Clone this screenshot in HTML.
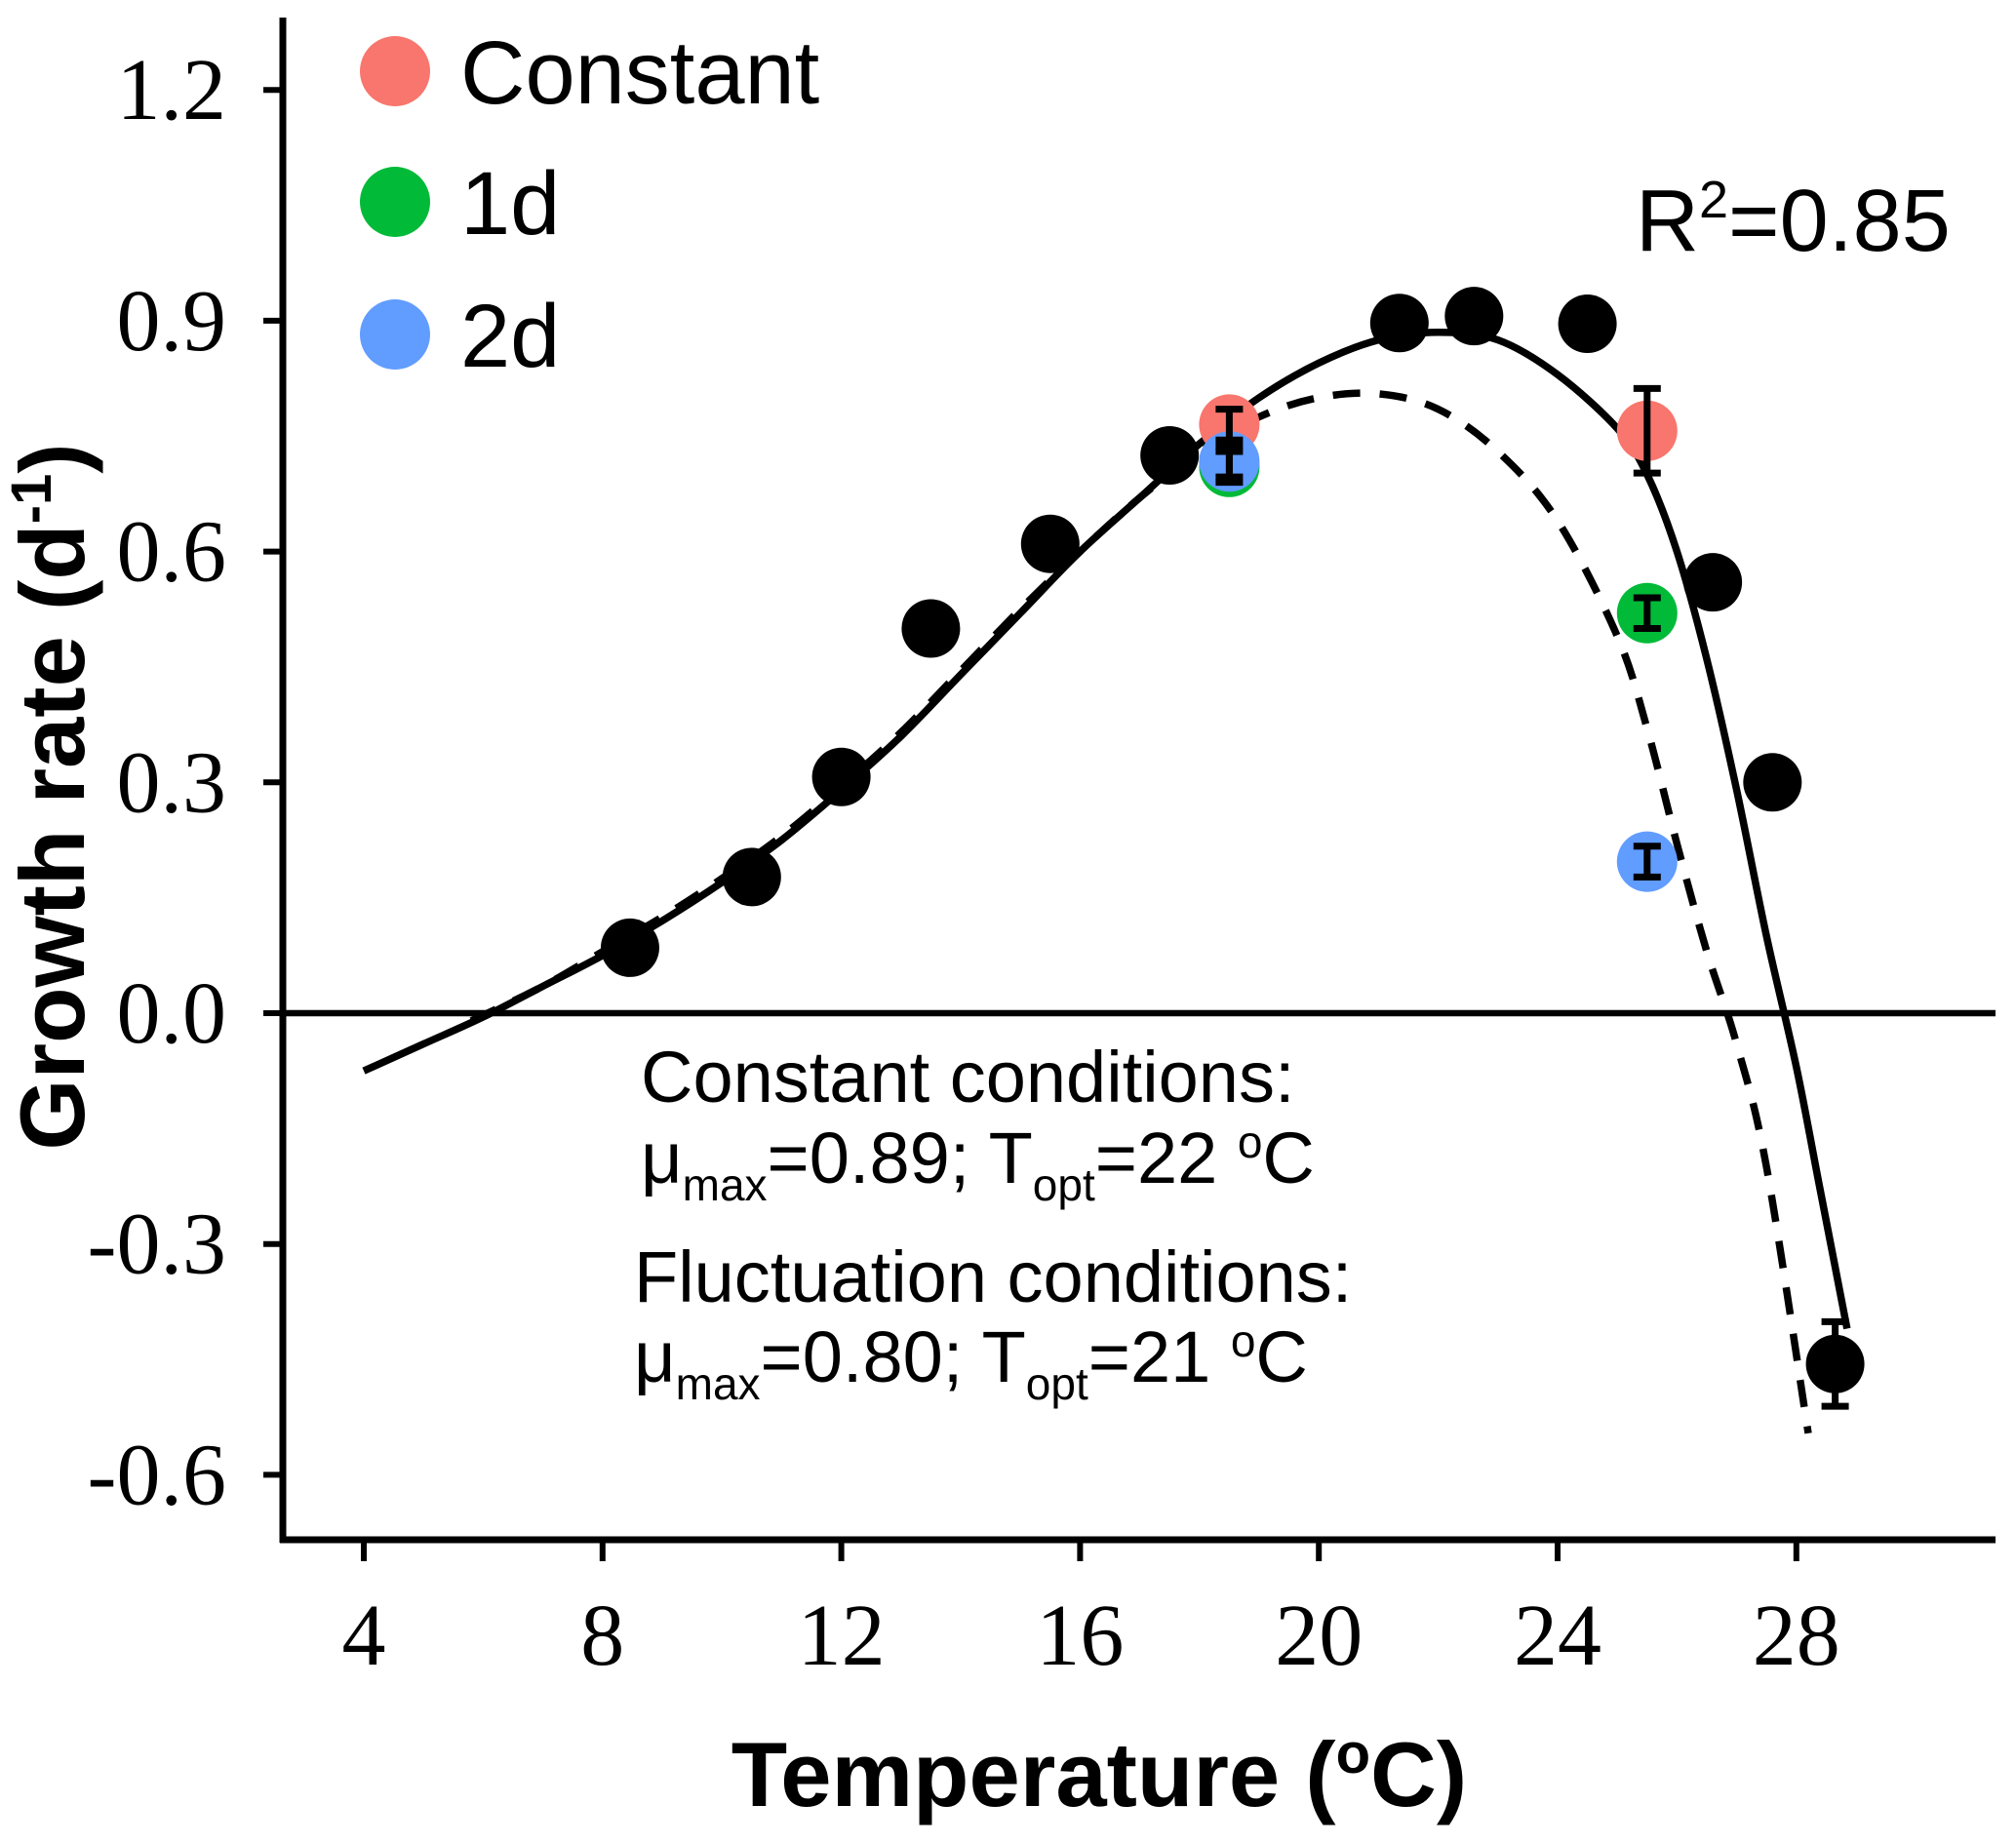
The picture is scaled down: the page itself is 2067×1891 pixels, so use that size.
<!DOCTYPE html>
<html><head><meta charset="utf-8"><style>
html,body{margin:0;padding:0;background:#fff}
svg{display:block}
text{font-family:"Liberation Sans",sans-serif}
</style></head><body>
<svg id="chart" width="2067" height="1891" viewBox="0 0 2067 1891"></svg>
<script>
const xTicks=[4,8,12,16,20,24,28];
const yTicks=[1.2,0.9,0.6,0.3,0.0,-0.3,-0.6];
const yTickLabels=["1.2","0.9","0.6","0.3","0.0","-0.3","-0.6"];
const blackT=[8.46,10.5,12.0,13.5,15.5,17.5,21.35,22.6,24.5,26.6,27.6,28.65];
const blackY=[0.085,0.177,0.307,0.50,0.61,0.725,0.897,0.906,0.896,0.56,0.30,-0.456];
const constT=[18.5,25.5], constY=[0.765,0.757], constErr=[0.02,0.055];
const d1T=[18.5,25.5], d1Y=[0.71,0.52], d1Err=[0.02,0.02];
const d2T=[18.5,25.5], d2Y=[0.717,0.197], d2Err=[0.02,0.02];
const solidT=[4,5,6,7,8,9,10,11,12,13,14,15,16,17,18,19,20,21,22,23,24,25,25.5,26,26.5,27,27.5,28,28.4,28.85];
const solidY=[-0.075,-0.04,-0.005,0.035,0.075,0.12,0.17,0.225,0.29,0.36,0.44,0.52,0.6,0.67,0.74,0.8,0.845,0.875,0.885,0.875,0.83,0.76,0.7,0.6,0.46,0.29,0.1,-0.07,-0.23,-0.41];
const dashT=[5.8,7,8,9,10,11,12,13,14,15,16,17,18,19,20,21,22,23,24,25,25.5,26,26.5,27,27.5,28.2];
const dashY=[-0.01,0.035,0.08,0.125,0.175,0.23,0.295,0.365,0.445,0.525,0.6,0.67,0.73,0.775,0.8,0.805,0.785,0.73,0.64,0.49,0.37,0.22,0.08,-0.04,-0.2,-0.546];

const svg=document.getElementById('chart');
const NS='http://www.w3.org/2000/svg';
const X=t=>373+(t-4)*61.2;
const Y=v=>1039-v*789;
function mk(tag,attrs,parent){const e=document.createElementNS(NS,tag);for(const k in attrs)e.setAttribute(k,attrs[k]);(parent||svg).appendChild(e);return e;}

let e=mk('line',{x1:290,y1:18,x2:290,y2:1582,stroke:'#000','stroke-width':7});


e=mk('line',{x1:287,y1:1579,x2:2046,y2:1579,stroke:'#000','stroke-width':7});


e=mk('line',{x1:290,y1:Y(0),x2:2046,y2:Y(0),stroke:'#000','stroke-width':6.5});



yTicks.forEach((v,i)=>{
  let t=mk('line',{x1:270,y1:Y(v),x2:290,y2:Y(v),stroke:'#000','stroke-width':6});
  
  
  let l=mk('text',{x:232,y:Y(v)+30,'text-anchor':'end','font-size':90,style:'font-family:"Liberation Serif",serif'});
  l.textContent=yTickLabels[i];
  
  
});
xTicks.forEach(v=>{
  let t=mk('line',{x1:X(v),y1:1579,x2:X(v),y2:1601,stroke:'#000','stroke-width':6});
  
  
  let l=mk('text',{x:X(v),y:1707,'text-anchor':'middle','font-size':90,style:'font-family:"Liberation Serif",serif'});
  l.textContent=String(v);
  
  
});

function pathD(ts,ys){
  const p=ts.map((t,i)=>[X(t),Y(ys[i])]);
  let d='M'+p[0][0].toFixed(1)+','+p[0][1].toFixed(1);
  for(let i=0;i<p.length-1;i++){
    const p0=p[Math.max(0,i-1)],p1=p[i],p2=p[i+1],p3=p[Math.min(p.length-1,i+2)];
    const c1=[p1[0]+(p2[0]-p0[0])/6,p1[1]+(p2[1]-p0[1])/6];
    const c2=[p2[0]-(p3[0]-p1[0])/6,p2[1]-(p3[1]-p1[1])/6];
    d+=` C${c1[0].toFixed(1)},${c1[1].toFixed(1)} ${c2[0].toFixed(1)},${c2[1].toFixed(1)} ${p2[0].toFixed(1)},${p2[1].toFixed(1)}`;
  }
  return d;
}
e=mk('path',{d:pathD(dashT,dashY),fill:'none',stroke:'#000','stroke-width':7.5,'stroke-dasharray':'28 20'});


e=mk('path',{d:pathD(solidT,solidY),fill:'none',stroke:'#000','stroke-width':7.5});



blackT.forEach((t,i)=>{
  let c=mk('circle',{cx:X(t),cy:Y(blackY[i]),r:30,fill:'#000'});
  
  
});
function errbar(t,v,err){
  const x=X(t),y1=Y(v+err),y2=Y(v-err);
  let g=mk('path',{d:`M${x},${y1}V${y2}M${x-14},${y1}H${x+14}M${x-14},${y2}H${x+14}`,stroke:'#000','stroke-width':7,fill:'none'});
  
  
}
function series(ts,ys,color,name){
  ts.forEach((t,i)=>{
    let c=mk('circle',{cx:X(t),cy:Y(ys[i]),r:31,fill:color});
    
    
  });
}
series(constT,constY,'#f8766d','constant-point');
series(d1T,d1Y,'#00ba38','1d-point');
series(d2T,d2Y,'#619cff','2d-point');
constT.forEach((t,i)=>errbar(t,constY[i],constErr[i]));
d1T.forEach((t,i)=>errbar(t,d1Y[i],d1Err[i]));
d2T.forEach((t,i)=>errbar(t,d2Y[i],d2Err[i]));
errbar(28.65,-0.456,0.055);

svg.insertAdjacentHTML('beforeend',`
<g>
 <circle cx="405" cy="73" r="36" fill="#f8766d"/>
 <text x="472" y="106" font-size="92">Constant</text>
 <circle cx="405" cy="207" r="36" fill="#00ba38"/>
 <text x="472" y="240" font-size="92">1d</text>
 <circle cx="405" cy="343" r="36" fill="#619cff"/>
 <text x="472" y="376" font-size="92">2d</text>
</g>
<text x="1677" y="257" font-size="90">R<tspan font-size="54" dy="-34">2</tspan><tspan dy="34">=0.85</tspan></text>
<g font-size="74">
 <text x="657" y="1130">Constant conditions:</text>
 <text x="657" y="1213">μ<tspan font-size="46" dy="18">max</tspan><tspan dy="-18">=0.89; T</tspan><tspan font-size="46" dy="18">opt</tspan><tspan dy="-18">=22 </tspan><tspan font-size="46" dy="-26">o</tspan><tspan dy="26">C</tspan></text>
 <text x="650" y="1335">Fluctuation conditions:</text>
 <text x="650" y="1417">μ<tspan font-size="46" dy="18">max</tspan><tspan dy="-18">=0.80; T</tspan><tspan font-size="46" dy="18">opt</tspan><tspan dy="-18">=21 </tspan><tspan font-size="46" dy="-26">o</tspan><tspan dy="26">C</tspan></text>
</g>
<text x="1127" y="1852" text-anchor="middle" font-size="94" font-weight="bold">Temperature (<tspan font-size="58" dy="-34">o</tspan><tspan dy="34">C)</tspan></text>
<text transform="translate(86,817) rotate(-90)" text-anchor="middle" font-size="94" font-weight="bold">Growth rate (d<tspan font-size="58" dy="-34">-1</tspan><tspan dy="34">)</tspan></text>
`);
</script>
</body></html>
